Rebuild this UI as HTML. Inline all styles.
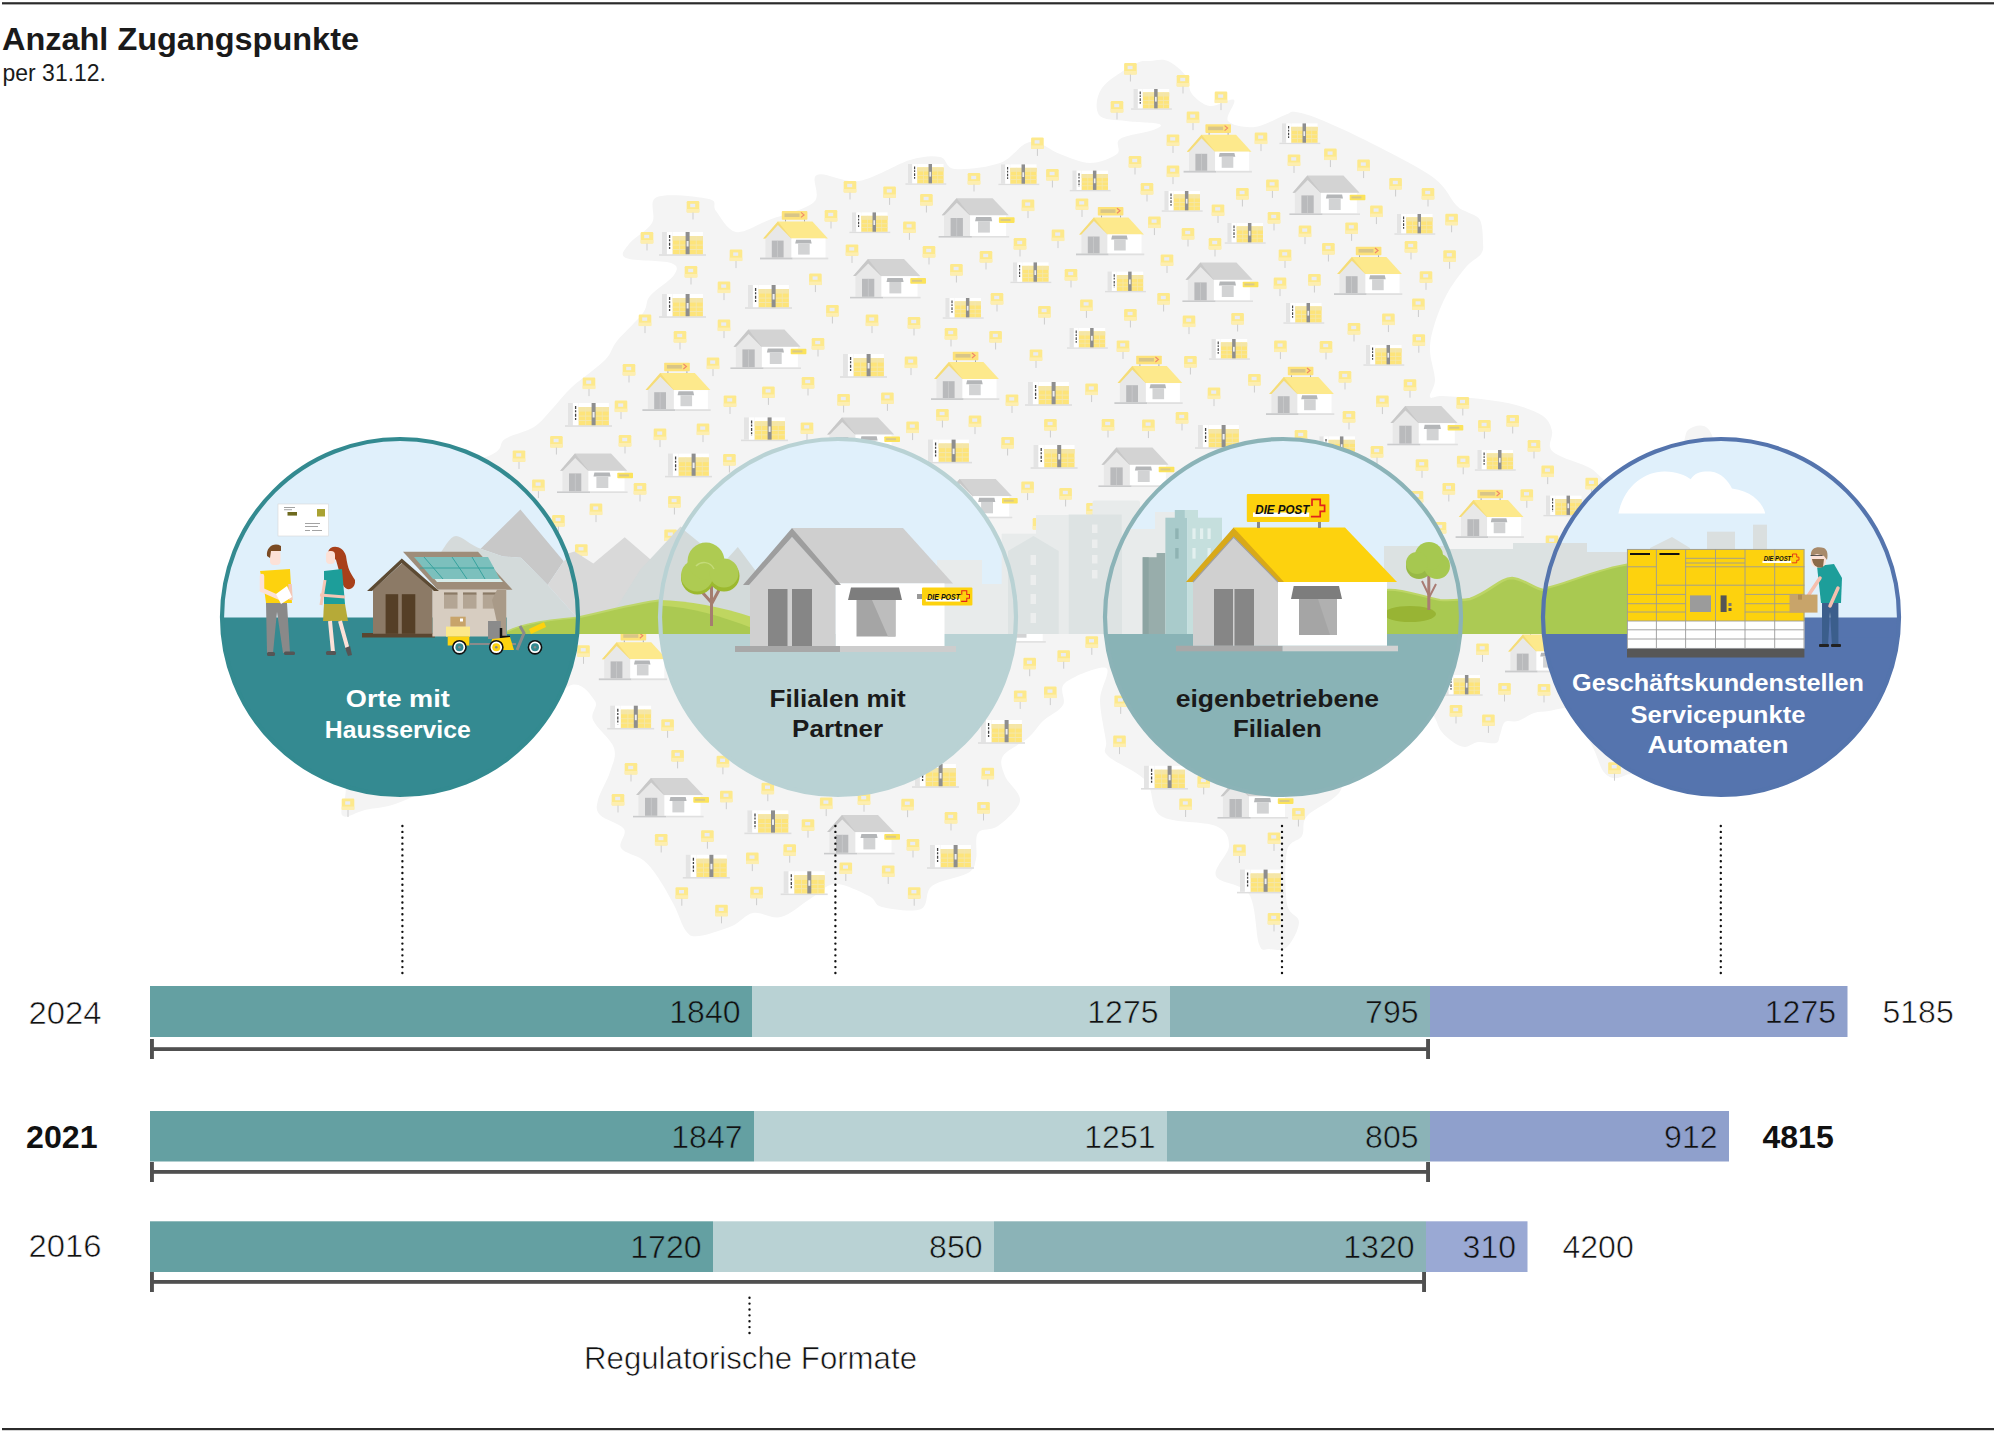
<!DOCTYPE html><html><head><meta charset="utf-8"><title>Anzahl Zugangspunkte</title><style>html,body{margin:0;padding:0;background:#fff;}body{width:2000px;height:1432px;overflow:hidden;position:relative;}svg{position:absolute;left:0;top:0;display:block;}</style></head><body>
<svg width="2000" height="1432" viewBox="0 0 2000 1432" font-family='"Liberation Sans", sans-serif'>
<defs>
<clipPath id="cc1"><circle cx="400" cy="617" r="179"/></clipPath>
<clipPath id="cc2"><circle cx="838" cy="617" r="179"/></clipPath>
<clipPath id="cc3"><circle cx="1283" cy="617" r="179"/></clipPath>
<clipPath id="cc4"><circle cx="1721" cy="617" r="179"/></clipPath>
<g id="pin"><rect x="-6.3" y="0" width="12.6" height="11.5" rx="1.2" fill="#fde98c"/><rect x="-6.3" y="8" width="12.6" height="3.5" fill="#fdeeb0"/><rect x="-2.8" y="2.8" width="5" height="3.4" fill="#e9ecf4"/><rect x="-0.5" y="11.5" width="1" height="7" fill="#cdcdcd"/></g>
<g id="lock"><rect x="-3" y="22.2" width="47" height="1.6" fill="#dedede"/><rect x="0" y="0" width="4.9" height="22.2" fill="#e4e4e4"/><rect x="4.9" y="0" width="5.4" height="22.2" fill="#fff"/><path d="M7.6,3 V18.5" stroke="#444" stroke-width="1.3" stroke-dasharray="3 1.2 2 1.5"/><rect x="10.7" y="0" width="30.2" height="4" fill="#fff"/><rect x="10.7" y="4" width="30.2" height="18.2" fill="#fde47a"/><rect x="10.7" y="4" width="30.2" height="4.6" fill="#f5e6a6"/><rect x="10.7" y="12.6" width="30.2" height="0.9" fill="#f3e7b0"/><rect x="10.7" y="17" width="30.2" height="0.9" fill="#f3e7b0"/><rect x="17.3" y="4" width="0.8" height="18.2" fill="#f3e7b0"/><rect x="33.8" y="4" width="0.8" height="18.2" fill="#f3e7b0"/><rect x="23.6" y="0" width="4" height="22.2" fill="#8e8e8e"/><rect x="24.6" y="9" width="2" height="5.5" fill="#eee"/></g>
<g id="hg"><polygon points="3.2,-22.3 18,-39.4 54,-39.4 70.2,-22.3" fill="#d3d3d3"/><polygon points="3.2,-22.3 18,-39.4 31.5,-22.3" fill="#c8c8c8"/><polygon points="5.4,-21.8 18.2,-34.9 31.5,-21.8 31.5,-1.6 5.4,-1.6" fill="#e8e8e8"/><rect x="31.5" y="-22" width="36" height="20.4" fill="#fff"/><rect x="12" y="-19.6" width="12.3" height="18" fill="#b9babc"/><rect x="17.9" y="-19.6" width="0.6" height="18" fill="#cfd0d1"/><polygon points="37.4,-20.5 52.7,-20.5 53.6,-16.4 36.5,-16.4" fill="#b4b6b8"/><rect x="39.4" y="-16.4" width="11.9" height="11.4" fill="#d2d3d4"/><rect x="0" y="-1.6" width="33.3" height="1.6" fill="#cacbcc"/><rect x="33.3" y="-1.6" width="37.3" height="1.6" fill="#e0e0e0"/><rect x="60.3" y="-20.3" width="15.7" height="5.6" rx="0.8" fill="#fbe35c"/><rect x="62" y="-18.6" width="10" height="2" fill="#d9c98a"/></g>
<g id="hy"><rect x="21.8" y="-48.3" width="25.6" height="8.6" rx="0.8" fill="#fde27a"/><rect x="24.5" y="-46" width="15" height="3.6" fill="#d8c588"/><path d="M41,-47 l3,2.5 l-3,2.5" stroke="#f08a6a" stroke-width="1.2" fill="none"/><rect x="25" y="-39.7" width="1" height="2" fill="#aaa"/><rect x="44" y="-39.7" width="1" height="2" fill="#aaa"/><polygon points="3.2,-20.9 17.9,-37.9 52.4,-37.9 67.9,-20.9" fill="#fde98c"/><polygon points="3.2,-20.9 17.9,-37.9 31.5,-20.9" fill="#f5dc78"/><polygon points="5.4,-20.7 17.9,-34.3 31.5,-20.7 31.5,-1.6 5.4,-1.6" fill="#e8e8e8"/><rect x="31.5" y="-20.9" width="34" height="19.3" fill="#fff"/><rect x="11.8" y="-18.8" width="11.8" height="17" fill="#b9babc"/><rect x="17.4" y="-18.8" width="0.6" height="17" fill="#cfd0d1"/><polygon points="36.1,-19.7 50.8,-19.7 51.7,-15.8 35.2,-15.8" fill="#b4b6b8"/><rect x="38.1" y="-15.8" width="11.6" height="11" fill="#d2d3d4"/><rect x="0" y="-1.8" width="32.7" height="1.8" fill="#cacbcc"/><rect x="32.7" y="-1.8" width="35.6" height="1.8" fill="#e0e0e0"/></g>
</defs>
<rect x="2" y="2.2" width="1992" height="2.2" fill="#2b2b2b"/>
<rect x="2" y="1428" width="1992" height="2.2" fill="#2b2b2b"/>
<text x="2" y="50" font-size="32" font-weight="bold" fill="#1a1a1a" textLength="357" lengthAdjust="spacingAndGlyphs">Anzahl Zugangspunkte</text>
<text x="2.5" y="81" font-size="24" fill="#1a1a1a" textLength="103.5" lengthAdjust="spacingAndGlyphs">per 31.12.</text>
<path d="M491.0,455.0 C505.2,448.2 497.8,443.7 505.0,439.0 C512.2,434.3 526.0,432.2 534.0,427.0 C542.0,421.8 546.7,414.7 553.0,408.0 C559.3,401.3 563.3,395.0 572.0,387.0 C580.7,379.0 597.5,367.7 605.0,360.0 C612.5,352.3 610.7,348.8 617.0,341.0 C623.3,333.2 637.5,320.5 643.0,313.0 C648.5,305.5 644.8,302.3 650.0,296.0 C655.2,289.7 670.5,280.5 674.0,275.0 C677.5,269.5 679.0,265.8 671.0,263.0 C663.0,260.2 633.0,261.2 626.0,258.0 C619.0,254.8 624.7,249.8 629.0,244.0 C633.3,238.2 647.3,230.8 652.0,223.0 C656.7,215.2 647.5,201.0 657.0,197.0 C666.5,193.0 699.2,196.7 709.0,199.0 C718.8,201.3 711.5,205.5 716.0,211.0 C720.5,216.5 727.2,230.5 736.0,232.0 C744.8,233.5 756.0,225.0 769.0,220.0 C782.0,215.0 806.0,209.5 814.0,202.0 C822.0,194.5 809.5,178.5 817.0,175.0 C824.5,171.5 843.5,183.5 859.0,181.0 C874.5,178.5 896.5,164.0 910.0,160.0 C923.5,156.0 932.5,155.5 940.0,157.0 C947.5,158.5 945.0,168.0 955.0,169.0 C965.0,170.0 987.5,167.5 1000.0,163.0 C1012.5,158.5 1020.0,143.5 1030.0,142.0 C1040.0,140.5 1050.0,150.5 1060.0,154.0 C1070.0,157.5 1080.5,163.0 1090.0,163.0 C1099.5,163.0 1112.0,158.0 1117.0,154.0 C1122.0,150.0 1114.0,143.0 1120.0,139.0 C1126.0,135.0 1146.5,132.5 1153.0,130.0 C1159.5,127.5 1163.5,125.5 1159.0,124.0 C1154.5,122.5 1136.0,122.5 1126.0,121.0 C1116.0,119.5 1103.0,120.5 1099.0,115.0 C1095.0,109.5 1096.0,96.5 1102.0,88.0 C1108.0,79.5 1127.0,68.5 1135.0,64.0 C1143.0,59.5 1144.5,61.5 1150.0,61.0 C1155.5,60.5 1162.0,58.5 1168.0,61.0 C1174.0,63.5 1182.0,70.5 1186.0,76.0 C1190.0,81.5 1188.0,89.0 1192.0,94.0 C1196.0,99.0 1203.0,105.0 1210.0,106.0 C1217.0,107.0 1231.0,97.5 1234.0,100.0 C1237.0,102.5 1224.5,116.5 1228.0,121.0 C1231.5,125.5 1245.5,128.0 1255.0,127.0 C1264.5,126.0 1278.2,117.5 1285.0,115.0 C1291.8,112.5 1289.5,111.0 1296.0,112.0 C1302.5,113.0 1310.2,115.2 1324.0,121.0 C1337.8,126.8 1360.7,137.5 1379.0,147.0 C1397.3,156.5 1421.2,168.3 1434.0,178.0 C1446.8,187.7 1450.5,199.3 1456.0,205.0 C1461.5,210.7 1463.0,209.5 1467.0,212.0 C1471.0,214.5 1477.3,215.0 1480.0,220.0 C1482.7,225.0 1482.8,236.3 1483.0,242.0 C1483.2,247.7 1483.8,249.8 1481.0,254.0 C1478.2,258.2 1471.7,260.3 1466.0,267.0 C1460.3,273.7 1452.3,284.2 1447.0,294.0 C1441.7,303.8 1436.8,316.5 1434.0,326.0 C1431.2,335.5 1429.8,342.0 1430.0,351.0 C1430.2,360.0 1435.0,372.3 1435.0,380.0 C1435.0,387.7 1428.7,394.3 1430.0,397.0 C1431.3,399.7 1434.5,395.7 1443.0,396.0 C1451.5,396.3 1468.8,397.5 1481.0,399.0 C1493.2,400.5 1505.7,402.2 1516.0,405.0 C1526.3,407.8 1537.0,411.7 1543.0,416.0 C1549.0,420.3 1550.8,425.8 1552.0,431.0 C1553.2,436.2 1548.7,442.8 1550.0,447.0 C1551.3,451.2 1553.3,452.5 1560.0,456.0 C1566.7,459.5 1580.8,463.2 1590.0,468.0 C1599.2,472.8 1605.0,485.5 1615.0,485.0 C1625.0,484.5 1639.2,471.2 1650.0,465.0 C1660.8,458.8 1673.7,453.8 1680.0,448.0 C1686.3,442.2 1684.0,433.7 1688.0,430.0 C1692.0,426.3 1699.7,424.3 1704.0,426.0 C1708.3,427.7 1710.5,431.0 1714.0,440.0 C1717.5,449.0 1724.0,453.3 1725.0,480.0 C1726.0,506.7 1727.5,563.3 1720.0,600.0 C1712.5,636.7 1693.3,672.5 1680.0,700.0 C1666.7,727.5 1649.0,752.5 1640.0,765.0 C1631.0,777.5 1630.5,772.8 1626.0,775.0 C1621.5,777.2 1616.8,778.7 1613.0,778.0 C1609.2,777.3 1606.0,775.3 1603.0,771.0 C1600.0,766.7 1597.5,757.5 1595.0,752.0 C1592.5,746.5 1591.3,744.2 1588.0,738.0 C1584.7,731.8 1578.7,720.0 1575.0,715.0 C1571.3,710.0 1570.3,708.7 1566.0,708.0 C1561.7,707.3 1554.3,710.2 1549.0,711.0 C1543.7,711.8 1539.2,711.3 1534.0,713.0 C1528.8,714.7 1522.8,719.5 1518.0,721.0 C1513.2,722.5 1508.0,719.7 1505.0,722.0 C1502.0,724.3 1501.5,731.5 1500.0,735.0 C1498.5,738.5 1499.7,741.8 1496.0,743.0 C1492.3,744.2 1483.2,741.3 1478.0,742.0 C1472.8,742.7 1469.2,747.0 1465.0,747.0 C1460.8,747.0 1457.0,744.7 1453.0,742.0 C1449.0,739.3 1444.8,736.0 1441.0,731.0 C1437.2,726.0 1436.8,717.2 1430.0,712.0 C1423.2,706.8 1413.3,692.0 1400.0,700.0 C1386.7,708.0 1360.2,744.5 1350.0,760.0 C1339.8,775.5 1346.2,783.7 1339.0,793.0 C1331.8,802.3 1313.2,808.8 1307.0,816.0 C1300.8,823.2 1305.3,830.2 1302.0,836.0 C1298.7,841.8 1289.5,839.7 1287.0,851.0 C1284.5,862.3 1285.0,892.2 1287.0,904.0 C1289.0,915.8 1299.0,914.8 1299.0,922.0 C1299.0,929.2 1292.0,942.5 1287.0,947.0 C1282.0,951.5 1273.7,949.5 1269.0,949.0 C1264.3,948.5 1262.3,953.2 1259.0,944.0 C1255.7,934.8 1256.2,905.3 1249.0,894.0 C1241.8,882.7 1219.3,884.0 1216.0,876.0 C1212.7,868.0 1229.0,854.3 1229.0,846.0 C1229.0,837.7 1227.3,831.0 1216.0,826.0 C1204.7,821.0 1172.7,823.5 1161.0,816.0 C1149.3,808.5 1154.8,791.0 1146.0,781.0 C1137.2,771.0 1114.7,762.7 1108.0,756.0 C1101.3,749.3 1107.3,750.3 1106.0,741.0 C1104.7,731.7 1100.0,712.2 1100.0,700.0 C1100.0,687.8 1111.8,670.8 1106.0,668.0 C1100.2,665.2 1072.2,676.8 1065.0,683.0 C1057.8,689.2 1066.7,698.7 1063.0,705.0 C1059.3,711.3 1048.8,715.5 1043.0,721.0 C1037.2,726.5 1034.7,732.2 1028.0,738.0 C1021.3,743.8 1006.8,749.7 1003.0,756.0 C999.2,762.3 1002.2,768.5 1005.0,776.0 C1007.8,783.5 1021.2,792.7 1020.0,801.0 C1018.8,809.3 1005.0,820.7 998.0,826.0 C991.0,831.3 981.7,827.5 978.0,833.0 C974.3,838.5 977.7,852.3 976.0,859.0 C974.3,865.7 975.3,868.5 968.0,873.0 C960.7,877.5 939.8,880.0 932.0,886.0 C924.2,892.0 929.3,905.5 921.0,909.0 C912.7,912.5 890.7,909.2 882.0,907.0 C873.3,904.8 876.8,899.8 869.0,896.0 C861.2,892.2 844.8,883.5 835.0,884.0 C825.2,884.5 819.0,893.5 810.0,899.0 C801.0,904.5 790.5,914.7 781.0,917.0 C771.5,919.3 761.2,911.5 753.0,913.0 C744.8,914.5 741.0,922.2 732.0,926.0 C723.0,929.8 706.7,935.2 699.0,936.0 C691.3,936.8 690.2,936.2 686.0,931.0 C681.8,925.8 678.8,914.2 674.0,905.0 C669.2,895.8 662.2,883.5 657.0,876.0 C651.8,868.5 649.0,864.7 643.0,860.0 C637.0,855.3 624.2,853.2 621.0,848.0 C617.8,842.8 627.5,834.5 624.0,829.0 C620.5,823.5 604.3,819.8 600.0,815.0 C595.7,810.2 596.3,807.2 598.0,800.0 C599.7,792.8 607.3,780.7 610.0,772.0 C612.7,763.3 616.8,756.7 614.0,748.0 C611.2,739.3 596.2,727.8 593.0,720.0 C589.8,712.2 599.0,706.7 595.0,701.0 C591.0,695.3 581.5,679.5 569.0,686.0 C556.5,692.5 546.5,721.3 520.0,740.0 C493.5,758.7 435.8,786.3 410.0,798.0 C384.2,809.7 376.3,807.2 365.0,810.0 C353.7,812.8 345.3,820.0 342.0,815.0 C338.7,810.0 348.7,799.2 345.0,780.0 C341.3,760.8 322.5,736.7 320.0,700.0 C317.5,663.3 313.3,596.7 330.0,560.0 C346.7,523.3 393.2,497.5 420.0,480.0 C446.8,462.5 476.8,461.8 491.0,455.0Z" fill="#f4f4f4"/>
<use href="#pin" x="693.0" y="201.0"/>
<use href="#pin" x="647.0" y="232.0"/>
<use href="#pin" x="736.0" y="249.6"/>
<use href="#pin" x="691.0" y="266.0"/>
<use href="#pin" x="724.0" y="281.6"/>
<use href="#pin" x="645.0" y="314.6"/>
<use href="#pin" x="724.0" y="319.6"/>
<use href="#pin" x="680.0" y="331.0"/>
<use href="#pin" x="850.0" y="181.0"/>
<use href="#pin" x="889.6" y="186.4"/>
<use href="#pin" x="926.4" y="194.0"/>
<use href="#pin" x="974.0" y="173.0"/>
<use href="#pin" x="831.0" y="210.0"/>
<use href="#pin" x="909.4" y="221.4"/>
<use href="#pin" x="852.0" y="244.4"/>
<use href="#pin" x="929.0" y="246.0"/>
<use href="#pin" x="986.0" y="251.0"/>
<use href="#pin" x="956.4" y="264.0"/>
<use href="#pin" x="815.4" y="273.6"/>
<use href="#pin" x="832.4" y="305.0"/>
<use href="#pin" x="872.0" y="314.6"/>
<use href="#pin" x="914.0" y="317.0"/>
<use href="#pin" x="951.0" y="328.0"/>
<use href="#pin" x="997.0" y="293.0"/>
<use href="#pin" x="1130.4" y="63.0"/>
<use href="#pin" x="1183.0" y="75.0"/>
<use href="#pin" x="1117.0" y="101.0"/>
<use href="#pin" x="1221.0" y="91.6"/>
<use href="#pin" x="1193.0" y="111.6"/>
<use href="#pin" x="1037.4" y="137.4"/>
<use href="#pin" x="1173.0" y="134.4"/>
<use href="#pin" x="1261.0" y="132.6"/>
<use href="#pin" x="1135.0" y="156.0"/>
<use href="#pin" x="1052.4" y="169.0"/>
<use href="#pin" x="1173.0" y="165.6"/>
<use href="#pin" x="1294.0" y="154.4"/>
<use href="#pin" x="1330.4" y="148.6"/>
<use href="#pin" x="1363.6" y="159.6"/>
<use href="#pin" x="1147.0" y="183.0"/>
<use href="#pin" x="1242.4" y="188.0"/>
<use href="#pin" x="1272.4" y="179.4"/>
<use href="#pin" x="1395.6" y="178.0"/>
<use href="#pin" x="1028.0" y="199.6"/>
<use href="#pin" x="1082.0" y="198.4"/>
<use href="#pin" x="1218.0" y="204.4"/>
<use href="#pin" x="1274.0" y="212.0"/>
<use href="#pin" x="1376.4" y="205.6"/>
<use href="#pin" x="1154.4" y="216.6"/>
<use href="#pin" x="1188.0" y="228.0"/>
<use href="#pin" x="1305.0" y="225.6"/>
<use href="#pin" x="1351.6" y="222.4"/>
<use href="#pin" x="1058.0" y="229.6"/>
<use href="#pin" x="1020.0" y="238.0"/>
<use href="#pin" x="1215.0" y="238.0"/>
<use href="#pin" x="1167.0" y="254.4"/>
<use href="#pin" x="1285.0" y="249.4"/>
<use href="#pin" x="1328.4" y="243.0"/>
<use href="#pin" x="1071.0" y="269.0"/>
<use href="#pin" x="1280.0" y="277.6"/>
<use href="#pin" x="1314.4" y="274.0"/>
<use href="#pin" x="1086.4" y="299.4"/>
<use href="#pin" x="1163.6" y="293.0"/>
<use href="#pin" x="1044.4" y="306.0"/>
<use href="#pin" x="1130.4" y="309.0"/>
<use href="#pin" x="1189.0" y="315.6"/>
<use href="#pin" x="1237.6" y="313.0"/>
<use href="#pin" x="1388.4" y="313.6"/>
<use href="#pin" x="1354.0" y="323.0"/>
<use href="#pin" x="1123.0" y="340.4"/>
<use href="#pin" x="1280.4" y="340.6"/>
<use href="#pin" x="1326.0" y="341.0"/>
<use href="#pin" x="1036.0" y="349.4"/>
<use href="#pin" x="1190.4" y="356.0"/>
<use href="#pin" x="1254.4" y="374.0"/>
<use href="#pin" x="1345.0" y="371.0"/>
<use href="#pin" x="1012.0" y="394.4"/>
<use href="#pin" x="1091.6" y="383.6"/>
<use href="#pin" x="1214.0" y="387.6"/>
<use href="#pin" x="1382.4" y="395.6"/>
<use href="#pin" x="1182.0" y="412.0"/>
<use href="#pin" x="1050.4" y="419.0"/>
<use href="#pin" x="1108.0" y="419.0"/>
<use href="#pin" x="1148.4" y="419.6"/>
<use href="#pin" x="1349.0" y="411.0"/>
<use href="#pin" x="1428.0" y="188.0"/>
<use href="#pin" x="1451.6" y="213.8"/>
<use href="#pin" x="1411.0" y="241.0"/>
<use href="#pin" x="1449.6" y="250.3"/>
<use href="#pin" x="1426.0" y="271.3"/>
<use href="#pin" x="1418.4" y="298.5"/>
<use href="#pin" x="1418.8" y="334.2"/>
<use href="#pin" x="1410.0" y="379.2"/>
<use href="#pin" x="1462.8" y="397.0"/>
<use href="#pin" x="1484.4" y="420.0"/>
<use href="#pin" x="1512.7" y="415.0"/>
<use href="#pin" x="1534.0" y="440.0"/>
<use href="#pin" x="1422.0" y="459.3"/>
<use href="#pin" x="1463.2" y="455.8"/>
<use href="#pin" x="1547.7" y="465.6"/>
<use href="#pin" x="1591.7" y="477.8"/>
<use href="#pin" x="1448.8" y="483.0"/>
<use href="#pin" x="1526.8" y="489.3"/>
<use href="#pin" x="818.0" y="338.0"/>
<use href="#pin" x="629.0" y="364.0"/>
<use href="#pin" x="713.0" y="357.6"/>
<use href="#pin" x="589.0" y="377.6"/>
<use href="#pin" x="808.0" y="377.0"/>
<use href="#pin" x="621.0" y="400.6"/>
<use href="#pin" x="730.0" y="395.4"/>
<use href="#pin" x="768.4" y="386.4"/>
<use href="#pin" x="843.6" y="394.0"/>
<use href="#pin" x="556.4" y="436.0"/>
<use href="#pin" x="625.0" y="435.0"/>
<use href="#pin" x="660.0" y="428.6"/>
<use href="#pin" x="703.0" y="423.6"/>
<use href="#pin" x="807.0" y="422.4"/>
<use href="#pin" x="519.0" y="450.4"/>
<use href="#pin" x="729.4" y="454.0"/>
<use href="#pin" x="538.4" y="479.6"/>
<use href="#pin" x="640.0" y="483.0"/>
<use href="#pin" x="674.4" y="496.0"/>
<use href="#pin" x="596.0" y="503.6"/>
<use href="#pin" x="558.4" y="515.0"/>
<use href="#pin" x="995.6" y="331.0"/>
<use href="#pin" x="911.0" y="356.6"/>
<use href="#pin" x="887.4" y="392.4"/>
<use href="#pin" x="942.4" y="409.0"/>
<use href="#pin" x="975.0" y="415.6"/>
<use href="#pin" x="912.6" y="421.6"/>
<use href="#pin" x="1007.6" y="437.0"/>
<use href="#pin" x="1027.6" y="481.6"/>
<use href="#pin" x="1065.6" y="488.0"/>
<use href="#pin" x="1301.0" y="430.0"/>
<use href="#pin" x="1377.0" y="446.0"/>
<use href="#pin" x="1417.0" y="491.0"/>
<use href="#pin" x="1440.0" y="522.0"/>
<use href="#pin" x="1552.0" y="535.6"/>
<use href="#pin" x="583.5" y="645.3"/>
<use href="#pin" x="667.6" y="719.3"/>
<use href="#pin" x="677.6" y="749.9"/>
<use href="#pin" x="631.0" y="763.0"/>
<use href="#pin" x="722.9" y="755.8"/>
<use href="#pin" x="767.8" y="782.7"/>
<use href="#pin" x="726.3" y="790.7"/>
<use href="#pin" x="618.0" y="794.0"/>
<use href="#pin" x="826.2" y="797.6"/>
<use href="#pin" x="864.0" y="793.2"/>
<use href="#pin" x="907.6" y="798.7"/>
<use href="#pin" x="983.5" y="802.0"/>
<use href="#pin" x="951.0" y="812.0"/>
<use href="#pin" x="661.2" y="834.0"/>
<use href="#pin" x="707.4" y="830.2"/>
<use href="#pin" x="808.0" y="819.2"/>
<use href="#pin" x="913.0" y="839.0"/>
<use href="#pin" x="789.7" y="844.2"/>
<use href="#pin" x="752.3" y="852.6"/>
<use href="#pin" x="845.8" y="862.5"/>
<use href="#pin" x="888.2" y="865.4"/>
<use href="#pin" x="681.8" y="887.2"/>
<use href="#pin" x="756.6" y="886.7"/>
<use href="#pin" x="914.2" y="887.2"/>
<use href="#pin" x="721.5" y="904.8"/>
<use href="#pin" x="1091.8" y="636.3"/>
<use href="#pin" x="1063.7" y="650.2"/>
<use href="#pin" x="1029.7" y="657.7"/>
<use href="#pin" x="1020.2" y="690.4"/>
<use href="#pin" x="1050.3" y="686.6"/>
<use href="#pin" x="1119.5" y="735.6"/>
<use href="#pin" x="1185.6" y="798.5"/>
<use href="#pin" x="1298.4" y="808.0"/>
<use href="#pin" x="1274.0" y="832.4"/>
<use href="#pin" x="1239.4" y="844.5"/>
<use href="#pin" x="1274.0" y="912.9"/>
<use href="#pin" x="1120.7" y="695.4"/>
<use href="#pin" x="1203.7" y="775.9"/>
<use href="#pin" x="1482.5" y="643.4"/>
<use href="#pin" x="1504.5" y="683.0"/>
<use href="#pin" x="1544.0" y="683.9"/>
<use href="#pin" x="1456.0" y="705.0"/>
<use href="#pin" x="1488.4" y="714.4"/>
<use href="#pin" x="1614.5" y="762.2"/>
<use href="#pin" x="581.3" y="544.3"/>
<use href="#pin" x="1092.5" y="503.0"/>
<use href="#pin" x="1039.0" y="518.0"/>
<use href="#pin" x="348.0" y="798.5"/>
<use href="#pin" x="987.8" y="767.8"/>
<use href="#pin" x="670.6" y="529.6"/>
<use href="#lock" x="662.0" y="232.0"/>
<use href="#lock" x="662.0" y="294.0"/>
<use href="#lock" x="748.0" y="285.0"/>
<use href="#lock" transform="translate(852.0,212.4) scale(0.87)"/>
<use href="#lock" transform="translate(908.0,164.0) scale(0.87)"/>
<use href="#lock" transform="translate(945.4,298.0) scale(0.87)"/>
<use href="#lock" transform="translate(1133.6,89.0) scale(0.87)"/>
<use href="#lock" transform="translate(1282.0,123.4) scale(0.87)"/>
<use href="#lock" transform="translate(1001.0,164.4) scale(0.87)"/>
<use href="#lock" transform="translate(1072.4,170.6) scale(0.87)"/>
<use href="#lock" transform="translate(1164.4,191.0) scale(0.87)"/>
<use href="#lock" transform="translate(1227.4,223.0) scale(0.87)"/>
<use href="#lock" transform="translate(1397.0,214.0) scale(0.87)"/>
<use href="#lock" transform="translate(1013.0,262.4) scale(0.87)"/>
<use href="#lock" transform="translate(1107.6,271.6) scale(0.87)"/>
<use href="#lock" transform="translate(1286.0,303.0) scale(0.87)"/>
<use href="#lock" transform="translate(1069.6,328.0) scale(0.87)"/>
<use href="#lock" transform="translate(1211.6,339.0) scale(0.87)"/>
<use href="#lock" transform="translate(1366.0,345.0) scale(0.87)"/>
<use href="#lock" x="1028.0" y="382.0"/>
<use href="#lock" x="1198.0" y="425.0"/>
<use href="#lock" transform="translate(1477.5,450.0) scale(0.87)"/>
<use href="#lock" x="568.0" y="403.0"/>
<use href="#lock" x="744.0" y="417.4"/>
<use href="#lock" x="668.0" y="453.6"/>
<use href="#lock" x="843.0" y="354.0"/>
<use href="#lock" x="928.0" y="439.6"/>
<use href="#lock" x="1033.6" y="445.0"/>
<use href="#lock" transform="translate(1319.4,436.4) scale(0.87)"/>
<use href="#lock" transform="translate(1546.0,495.6) scale(0.87)"/>
<use href="#lock" x="610.2" y="705.7"/>
<use href="#lock" x="747.4" y="810.4"/>
<use href="#lock" x="685.8" y="854.8"/>
<use href="#lock" x="783.7" y="871.3"/>
<use href="#lock" x="930.0" y="845.0"/>
<use href="#lock" x="915.0" y="764.0"/>
<use href="#lock" x="981.0" y="720.0"/>
<use href="#lock" x="1144.0" y="765.8"/>
<use href="#lock" x="1240.0" y="869.6"/>
<use href="#lock" transform="translate(1444.4,675.0) scale(0.87)"/>
<use href="#hg" x="850.0" y="298.4"/>
<use href="#hg" x="938.6" y="237.6"/>
<use href="#hg" x="1289.4" y="215.0"/>
<use href="#hg" x="1182.4" y="302.0"/>
<use href="#hg" x="1387.3" y="445.3"/>
<use href="#hg" x="730.4" y="369.0"/>
<use href="#hg" x="557.0" y="493.0"/>
<use href="#hg" x="824.0" y="456.8"/>
<use href="#hg" x="941.7" y="518.3"/>
<use href="#hg" x="1098.4" y="487.0"/>
<use href="#hg" x="633.0" y="817.4"/>
<use href="#hg" x="824.0" y="854.4"/>
<use href="#hg" x="1217.5" y="818.6"/>
<use href="#hg" x="975.2" y="642.7"/>
<use href="#hy" x="760.0" y="259.4"/>
<use href="#hy" x="1183.6" y="172.6"/>
<use href="#hy" x="1076.0" y="255.3"/>
<use href="#hy" x="1334.0" y="295.0"/>
<use href="#hy" x="1114.4" y="404.0"/>
<use href="#hy" x="1266.0" y="415.0"/>
<use href="#hy" x="642.4" y="411.0"/>
<use href="#hy" x="931.0" y="400.0"/>
<use href="#hy" x="1455.6" y="538.0"/>
<use href="#hy" x="598.8" y="680.2"/>
<use href="#hy" x="1505.0" y="672.4"/>
<polygon points="560,634 560,556 574.5,551.6 593.3,563.6 624.7,537.2 651.7,560.4 700,610 700,634" fill="#d9d9d9"/>
<polygon points="600,634 640,570 680.6,526.5 700,542 700,634" fill="#d3dada"/>
<path d="M560,621 C600,614 630,603 670,599 L700,600 L700,634 L560,634 Z" fill="#aecb52"/>
<path d="M560,621 C600,614 630,603 670,599 L700,600" stroke="#bdd66a" stroke-width="2" fill="none"/>
<rect x="1001.7" y="533.7" width="57" height="100.3" fill="#e8ebeb"/>
<rect x="1036" y="515" width="33" height="119" fill="#e8ebeb"/>
<rect x="1092.5" y="500.5" width="47.5" height="133.5" rx="2" fill="#e8ebeb"/>
<polygon points="1008,551 1033.5,536 1058.7,551 1058.7,634 1008,634" fill="#dde3e3"/>
<rect x="1068.7" y="514.5" width="53" height="119.5" fill="#dde3e3"/>
<rect x="1030.5" y="555" width="5.5" height="10" fill="#eceeee"/>
<rect x="1030.5" y="575" width="5.5" height="10" fill="#eceeee"/>
<rect x="1030.5" y="594" width="5.5" height="10" fill="#eceeee"/>
<rect x="1030.5" y="613" width="5.5" height="10" fill="#eceeee"/>
<rect x="1092" y="524.5" width="5.5" height="8.5" fill="#eceeee"/>
<rect x="1092" y="539.5" width="5.5" height="8.5" fill="#eceeee"/>
<rect x="1092" y="555.0" width="5.5" height="8.5" fill="#eceeee"/>
<rect x="1092" y="570.0" width="5.5" height="8.5" fill="#eceeee"/>
<polygon points="1440,634 1440,549 1513,549 1513,543 1587,543 1587,552 1600,552 1600,634" fill="#dce2e2"/>
<path d="M1440,598 C1452,600 1460,601 1470,599 C1490,592 1500,578 1512,578 C1525,579 1535,590 1545,590 C1560,588 1570,572 1600,567 L1600,634 L1440,634 Z" fill="#acca54"/>
<path d="M1440,598 C1452,600 1460,601 1470,599 C1490,592 1500,578 1512,578 C1525,579 1535,590 1545,590 C1560,588 1570,572 1600,567" stroke="#bcd565" stroke-width="2.5" fill="none"/>
<!--CIRCLES-->
<g clip-path="url(#cc1)">
<rect x="214" y="430" width="372" height="380" fill="#e0f0fb"/>
<path d="M434,634 L436,560 C444,548 450,536 456,536 C462,536 470,545 481,549 L481,634 Z" fill="#d5dada"/>
<polygon points="480.6,548.8 520.4,509.6 563.7,561.3 547.7,585 521,557.7 503,556.5" fill="#c8c8c8"/>
<polygon points="547.7,585 563.7,561.3 574.4,551.8 600,575 600,634 574.4,614.7" fill="#d9d9d9"/>
<polygon points="470,549 480.6,548.8 503,556.5 521,557.7 547.7,585 574.4,614.7 590,634 470,634" fill="#d3dada"/>
<path d="M503,634 C515,626 535,621 582,617 L582,634 Z" fill="#aecb52"/>
<path d="M503,634 C515,626 535,621 582,617" stroke="#bdd66a" stroke-width="1.5" fill="none"/>
<rect x="215" y="617.5" width="292" height="20" fill="#348a91"/>
<rect x="215" y="634" width="372" height="180" fill="#348a91"/>
<rect x="278" y="504" width="50.5" height="32" fill="#fff" stroke="#d8d8d8" stroke-width="0.6"/>
<rect x="317" y="509" width="8" height="7.5" fill="#a9a232"/><rect x="287.5" y="512" width="9.5" height="3.6" fill="#6e6a1f"/>
<rect x="284" y="507" width="11" height="0.9" fill="#999"/><rect x="284" y="509.3" width="8" height="0.9" fill="#999"/><rect x="305" y="523" width="15" height="0.9" fill="#999"/><rect x="305" y="526" width="13" height="0.9" fill="#999"/><rect x="305" y="530" width="5" height="0.9" fill="#999"/><rect x="312" y="530" width="10" height="0.9" fill="#999"/>
<rect x="362" y="633" width="73" height="4.5" fill="#5a4630"/>
<polygon points="403,551.8 478,551.8 512.5,589.7 437.8,589.7" fill="#9e8d7a"/><polygon points="434,578.5 500,578.5 503,582 437,582" fill="#d8ecea"/>
<polygon points="414,557 488,557 500,579 433,579" fill="#7cc0bd"/>
<path d="M424,557 L443,579 M452,557 L467,579 M472,557 L485,579 M420,568 L494,568" stroke="#2f9e9a" stroke-width="0.9"/>
<rect x="432.4" y="589.7" width="74" height="46.8" fill="#d7cdc1"/>
<polygon points="373,589.7 403.6,561.8 432.4,589.7 432.4,633.8 373,633.8" fill="#8c7a66"/>
<polygon points="367,591 401.8,558.5 439,591 434,591 401.8,563 372,591" fill="#5c4a33"/>
<rect x="385.6" y="594.2" width="12.6" height="39.6" fill="#553f26"/><rect x="401.8" y="594.2" width="13.5" height="39.6" fill="#553f26"/>
<rect x="444.0" y="594" width="13.5" height="14.6" fill="#b3a594"/><rect x="444.0" y="592.4" width="13.5" height="2.2" fill="#8a7a66"/>
<rect x="463.0" y="594" width="13.5" height="14.6" fill="#b3a594"/><rect x="463.0" y="592.4" width="13.5" height="2.2" fill="#8a7a66"/>
<rect x="482.8" y="594" width="13.5" height="14.6" fill="#b3a594"/><rect x="482.8" y="592.4" width="13.5" height="2.2" fill="#8a7a66"/>
<polygon points="497,589.7 506.2,589.7 506.2,636.5 500,636.5 492,600" fill="#a99a88"/>
<rect x="450.4" y="616.7" width="15.3" height="10" fill="#c8a46a"/><rect x="460" y="618.5" width="3" height="3" fill="#fff"/>
<rect x="446" y="626.6" width="24" height="10" fill="#fde98a"/><rect x="447.7" y="636.5" width="21.6" height="9" fill="#fdd20e"/>
<rect x="470" y="643" width="46" height="2" fill="#8b8b8b"/>
<rect x="488" y="621" width="12.8" height="18" fill="#8b8b8b"/><path d="M501,628 L501,637 L510,637" stroke="#111" stroke-width="2.5" fill="none"/>
<polygon points="492,639 510,637 514,650 490,650" fill="#fdd20e"/>
<path d="M517,650 L524,633 L520,626" stroke="#8b8b8b" stroke-width="3" fill="none"/><polygon points="529,629 544,622 546,627 531,634" fill="#fdd20e"/>
<circle cx="459.4" cy="647.3" r="6.6" fill="#fff" stroke="#111" stroke-width="1.6"/><circle cx="459.4" cy="647.3" r="4" fill="#348a91"/><circle cx="459.4" cy="647.3" r="1.3" fill="#888"/>
<circle cx="496.3" cy="647.3" r="6.6" fill="#fff" stroke="#111" stroke-width="1.6"/><circle cx="496.3" cy="647.3" r="4" fill="#fdd20e"/><circle cx="496.3" cy="647.3" r="1.3" fill="#888"/>
<circle cx="535.0" cy="647.3" r="6.6" fill="#fff" stroke="#111" stroke-width="1.6"/><circle cx="535.0" cy="647.3" r="4" fill="#348a91"/><circle cx="535.0" cy="647.3" r="1.3" fill="#888"/>
<polygon points="266,603 287,603 290,653 283,653 277,612 273,653 267,653" fill="#898989"/>
<rect x="267" y="652" width="8" height="4" rx="1.5" fill="#555"/><rect x="284" y="651.5" width="11" height="3.5" rx="1.5" fill="#555"/>
<polygon points="260,571 290,569 292,603 266,603 264,588" fill="#fdd20e"/>
<path d="M262,576 L262,590 L280,598" stroke="#fce1d7" stroke-width="4.5" fill="none" stroke-linecap="round"/><path d="M290,584 L291,600" stroke="#f5c6b5" stroke-width="3.5" fill="none"/>
<polygon points="276,594 287,586 292,597 281,604" fill="#fff"/>
<rect x="270" y="550" width="10.5" height="15" rx="4" fill="#fce1d7"/><path d="M267,556 C266,547 274,542 281,546 L281,551 L271,551 L270,558 Z" fill="#7a4a22"/>
<path d="M328,552 C330,544 343,545 346,556 C348,570 350,572 355,580 C356,590 346,592 343,585 L336,560 Z" fill="#a8401a"/>
<rect x="326" y="551" width="9" height="13" rx="4" fill="#fce1d7"/>
<polygon points="324,571 342,569 345,604 324,604" fill="#1d9e9a"/>
<path d="M325,580 L321,605" stroke="#f5c6b5" stroke-width="3" fill="none"/><path d="M320,595 L345,597" stroke="#f5c6b5" stroke-width="3" fill="none"/>
<polygon points="324,604 345,604 348,621 323,621" fill="#b6aa38"/>
<path d="M330,621 L333,652 M340,621 L348,650" stroke="#fce1d7" stroke-width="4" fill="none"/>
<rect x="326" y="651" width="10" height="4" rx="1.5" fill="#555"/><polygon points="345,648 350,646 352,655 348,656" fill="#555"/>
</g>
<circle cx="400" cy="617" r="178" fill="none" stroke="#338a90" stroke-width="4.2"/>
<g clip-path="url(#cc2)">
<rect x="652" y="430" width="372" height="380" fill="#e0f0fb"/>
<polygon points="650,634 650,560 679,526 723.8,562.5 737.8,547 770,590 770,634" fill="#d3dada"/>
<rect x="937" y="560" width="45" height="74" fill="#e8ebeb"/><rect x="982" y="584" width="20" height="50" fill="#e8ebeb"/>
<rect x="1001.7" y="533.7" width="57" height="100.3" fill="#e8ebeb"/><polygon points="1008,551 1033.5,536 1058.7,551 1058.7,634 1008,634" fill="#dde3e3"/>
<path d="M650,600 C680,599 720,606 752,617 L752,634 L650,634 Z" fill="#bfd660"/>
<path d="M650,605.5 C685,605 720,616 752,628 L752,634 L650,634 Z" fill="#abc952"/>
<path d="M711.5,626 L711.5,578 M711,602 L702,592 M711.5,604 L719,590" stroke="#a57d70" stroke-width="3" fill="none"/>
<circle cx="697.5" cy="578" r="16.5" fill="#9cb92f"/><circle cx="724" cy="576" r="15.5" fill="#9cb92f"/>
<circle cx="697" cy="575.5" r="16" fill="#aecb52"/><circle cx="706" cy="561" r="18.5" fill="#aecb52"/><circle cx="724" cy="573" r="14.5" fill="#aecb52"/>
<path d="M696,566 C701,561 710,561 714,569" stroke="#c3da78" stroke-width="1.5" fill="none"/>
<rect x="640" y="634" width="400" height="180" fill="#b9d2d4"/>
<rect x="735" y="646" width="105" height="6" fill="#a8a8a8"/><rect x="840" y="646" width="116" height="6" fill="#cdcdcd"/>
<polygon points="792,528 903,528 953,583.4 835.5,583.4" fill="#cfcfcf"/>
<rect x="835.5" y="583.4" width="109" height="62.6" fill="#fff"/>
<polygon points="750,583.4 792,537 835.5,583.4 835.5,646 750,646" fill="#d0d0d0"/>
<polygon points="743,585 792,528 841,585 835.5,585 792,537 749,585" fill="#9e9e9e"/>
<rect x="768" y="589" width="19.5" height="57" fill="#868686"/><rect x="792" y="589" width="20" height="57" fill="#868686"/>
<polygon points="851,587.6 899,587.6 902,600 848,600" fill="#7d7d7d"/><rect x="856.5" y="600" width="39" height="36.5" fill="#a5a5a5"/><polygon points="872,600 895.5,600 895.5,636.5 888,636.5" fill="#bdbdbd"/>
<rect x="917" y="594" width="6" height="5" fill="#999"/><rect x="922" y="587.6" width="50.4" height="18" rx="1" fill="#fdd20e"/>
<g transform="translate(922.00,587.60) scale(0.610)">
<rect x="6.2" y="18.5" width="56.2" height="4.4" fill="#fff"/>
<text x="8.5" y="19.6" font-size="13.5" font-weight="bold" font-style="italic" fill="#111" textLength="54" lengthAdjust="spacingAndGlyphs">DIE POST</text>
<path d="M65.2,11.9 V5.3 H73.4 V11.4 H77.8 V17.4 H73.4 V22.6 H64.1" fill="none" stroke="#e2231a" stroke-width="1.7"/>
</g>
</g>
<circle cx="838" cy="617" r="178" fill="none" stroke="#b9d2d4" stroke-width="4.2"/>
<g clip-path="url(#cc3)">
<rect x="1097" y="430" width="372" height="380" fill="#e0f0fb"/>
<rect x="1384" y="546" width="90" height="88" fill="#dce2e2"/>
<rect x="1080" y="514" width="42" height="120" fill="#dde3e3"/>
<rect x="1122" y="529" width="44" height="105" fill="#e8ebeb"/><rect x="1155" y="512" width="20" height="18" fill="#e8ebeb"/>
<polygon points="1142.7,634 1142.7,557.3 1156.6,557.3 1156.6,553 1165.4,553 1165.4,634" fill="#98adab"/><rect x="1142.7" y="557.3" width="6" height="76.7" fill="#8ca4a2"/>
<rect x="1165.4" y="517.7" width="22" height="116.3" fill="#a9cbcb"/><rect x="1174.8" y="510" width="10.1" height="8" fill="#a9cbcb"/>
<rect x="1187.4" y="517.7" width="34.6" height="116.3" fill="#c5dfdd"/><rect x="1184.9" y="510" width="13.1" height="8" fill="#c5dfdd"/>
<rect x="1175.2" y="528.4" width="3.4" height="10.6" fill="#8fb3b3"/><rect x="1175.2" y="548" width="3.4" height="10.6" fill="#8fb3b3"/>
<rect x="1192.4" y="528.4" width="3.2" height="10.6" fill="#e3f0ef"/>
<rect x="1200.0" y="528.4" width="3.2" height="10.6" fill="#e3f0ef"/>
<rect x="1207.5" y="528.4" width="3.2" height="10.6" fill="#e3f0ef"/>
<rect x="1192.4" y="548" width="3.2" height="10.6" fill="#e3f0ef"/>
<rect x="1207.5" y="548" width="3.2" height="10.6" fill="#e3f0ef"/>
<path d="M1384,590 C1400,588 1420,596 1440,600 C1450,601 1460,600 1475,598 L1475,634 L1384,634 Z" fill="#a9c951"/>
<path d="M1384,590 C1400,588 1420,596 1440,600 C1450,601 1460,600 1475,598" stroke="#bcd565" stroke-width="2" fill="none"/>
<ellipse cx="1410" cy="614" rx="26" ry="8" fill="#98b434"/>
<rect x="1427.3" y="568" width="3" height="42" fill="#a97c74"/><path d="M1428.8,595 L1422,581 M1428.8,598 L1436,584" stroke="#a97c74" stroke-width="2"/>
<circle cx="1419" cy="566" r="13" fill="#98b946"/><circle cx="1437" cy="566" r="13" fill="#a6c850"/><circle cx="1429" cy="556" r="14" fill="#a6c850"/><circle cx="1417" cy="563" r="11" fill="#a6c850"/>
<rect x="1080" y="634" width="410" height="180" fill="#89b3b6"/>
<rect x="1176" y="645.7" width="106.5" height="5.6" fill="#a8a8a8"/><rect x="1282.5" y="645.7" width="115.5" height="5.6" fill="#d2d2d2"/>
<polygon points="1233.6,527.5 1345,527.5 1397,582 1278,582" fill="#fdd20e"/>
<rect x="1278" y="582" width="109" height="63.7" fill="#fff"/>
<polygon points="1193,582 1233.6,537 1278,582 1278,645.7 1193,645.7" fill="#d0d0d0"/>
<polygon points="1186,582 1233.6,527.5 1284,582 1278,582 1233.6,537 1193,582" fill="#d8a91a"/>
<path d="M1193,582 L1233.6,537 L1278,582" stroke="#a0a0a0" stroke-width="1.2" fill="none"/>
<rect x="1214" y="589" width="19" height="56.7" fill="#868686"/><rect x="1234.5" y="589" width="19.5" height="56.7" fill="#868686"/>
<polygon points="1293.7,586 1339,586 1342,599 1291,599" fill="#7d7d7d"/><rect x="1299" y="599" width="38" height="36" fill="#a5a5a5"/><polygon points="1318,599 1337,599 1337,635 1330,635" fill="#b0b0b0"/>
<rect x="1257" y="521" width="3" height="7" fill="#8a8a8a"/><rect x="1318" y="521" width="3" height="7" fill="#8a8a8a"/>
<rect x="1246.8" y="494" width="82.6" height="28" rx="1" fill="#fdd20e"/>
<g transform="translate(1246.80,494.00) scale(1.000)">
<rect x="6.2" y="18.5" width="56.2" height="4.4" fill="#fff"/>
<text x="8.5" y="19.6" font-size="13.5" font-weight="bold" font-style="italic" fill="#111" textLength="54" lengthAdjust="spacingAndGlyphs">DIE POST</text>
<path d="M65.2,11.9 V5.3 H73.4 V11.4 H77.8 V17.4 H73.4 V22.6 H64.1" fill="none" stroke="#e2231a" stroke-width="1.7"/>
</g>
</g>
<circle cx="1283" cy="617" r="178" fill="none" stroke="#8bb3b7" stroke-width="4.2"/>
<g clip-path="url(#cc4)">
<rect x="1535" y="430" width="372" height="380" fill="#e0f0fb"/>
<path d="M1618.4,513.6 C1624,486 1645,471 1665,471.5 C1677,472 1685,475 1690.7,479.2 C1695,472 1703,471 1710.6,471.5 C1722,473 1728,481 1732,488.4 C1752,491 1763,503 1765.2,513.6 Z" fill="#fff"/>
<rect x="1535" y="543" width="52" height="91" fill="#dadfdf"/><polygon points="1650,634 1650,548 1672,537 1690,548 1690,634" fill="#dadfdf"/><rect x="1707" y="531.7" width="28" height="102" fill="#dadfdf"/><rect x="1753" y="524.7" width="14" height="110" fill="#dadfdf"/><rect x="1587" y="552" width="60" height="82" fill="#dadfdf"/>
<path d="M1535,590 C1560,588 1590,570 1630,564 L1630,634 L1535,634 Z" fill="#a9c951"/>
<path d="M1535,590 C1560,588 1590,570 1630,564" stroke="#bcd565" stroke-width="2" fill="none"/>
<rect x="1535" y="634" width="372" height="180" fill="#5574ae"/>
<rect x="1800" y="617.5" width="110" height="20" fill="#5574ae"/>
<rect x="1627" y="549" width="177.4" height="72" fill="#fdd20e"/>
<rect x="1627" y="621" width="177.4" height="27.5" fill="#fff"/>
<rect x="1627" y="648.5" width="177.4" height="9" fill="#575757"/>
<g stroke="#9a9a9a" stroke-width="0.9" fill="none"><rect x="1627.4" y="549.4" width="176.6" height="99"/>
<line x1="1656.4" y1="549" x2="1656.4" y2="648.5"/>
<line x1="1685.6" y1="549" x2="1685.6" y2="648.5"/>
<line x1="1715.5" y1="549" x2="1715.5" y2="648.5"/>
<line x1="1745.0" y1="549" x2="1745.0" y2="648.5"/>
<line x1="1774.7" y1="549" x2="1774.7" y2="648.5"/>
<line x1="1627.0" y1="566.8" x2="1656.4" y2="566.8"/><line x1="1627.0" y1="594.4" x2="1656.4" y2="594.4"/><line x1="1627.0" y1="603.7" x2="1656.4" y2="603.7"/><line x1="1627.0" y1="612.0" x2="1656.4" y2="612.0"/><line x1="1656.4" y1="585.2" x2="1685.6" y2="585.2"/><line x1="1656.4" y1="594.4" x2="1685.6" y2="594.4"/><line x1="1656.4" y1="603.7" x2="1685.6" y2="603.7"/><line x1="1656.4" y1="612.0" x2="1685.6" y2="612.0"/><line x1="1685.6" y1="558.3" x2="1715.5" y2="558.3"/><line x1="1685.6" y1="563.0" x2="1715.5" y2="563.0"/><line x1="1685.6" y1="566.8" x2="1715.5" y2="566.8"/><line x1="1685.6" y1="585.2" x2="1715.5" y2="585.2"/><line x1="1715.5" y1="558.3" x2="1745.0" y2="558.3"/><line x1="1715.5" y1="563.0" x2="1745.0" y2="563.0"/><line x1="1715.5" y1="566.8" x2="1745.0" y2="566.8"/><line x1="1715.5" y1="585.2" x2="1745.0" y2="585.2"/><line x1="1745.0" y1="566.8" x2="1774.7" y2="566.8"/><line x1="1745.0" y1="585.2" x2="1774.7" y2="585.2"/><line x1="1745.0" y1="594.4" x2="1774.7" y2="594.4"/><line x1="1745.0" y1="603.7" x2="1774.7" y2="603.7"/><line x1="1745.0" y1="612.0" x2="1774.7" y2="612.0"/><line x1="1774.7" y1="566.8" x2="1804.4" y2="566.8"/><line x1="1774.7" y1="585.2" x2="1804.4" y2="585.2"/><line x1="1774.7" y1="594.4" x2="1804.4" y2="594.4"/><line x1="1774.7" y1="603.7" x2="1804.4" y2="603.7"/><line x1="1774.7" y1="612.0" x2="1804.4" y2="612.0"/><line x1="1627" y1="629.8" x2="1804.4" y2="629.8"/><line x1="1627" y1="639" x2="1804.4" y2="639"/><line x1="1627" y1="621" x2="1804.4" y2="621"/>
</g>
<rect x="1630" y="553" width="20" height="2" fill="#111"/><rect x="1659.5" y="553" width="20" height="2" fill="#111"/>
<rect x="1690" y="595.4" width="21" height="16.6" fill="#9b9b9b"/><rect x="1720.6" y="595.4" width="6" height="16.6" fill="#555"/><rect x="1728.5" y="603" width="3" height="3" fill="#777"/><rect x="1728.5" y="608" width="3" height="3" fill="#555"/>
<g transform="translate(1759.30,551.30) scale(0.510)">
<rect x="6.2" y="18.5" width="56.2" height="4.4" fill="#fff"/>
<text x="8.5" y="19.6" font-size="13.5" font-weight="bold" font-style="italic" fill="#111" textLength="54" lengthAdjust="spacingAndGlyphs">DIE POST</text>
<path d="M65.2,11.9 V5.3 H73.4 V11.4 H77.8 V17.4 H73.4 V22.6 H64.1" fill="none" stroke="#e2231a" stroke-width="1.7"/>
</g>
<polygon points="1822,601.6 1838.4,601.6 1838.4,646 1832,646 1830,612 1828,646 1822,646" fill="#3b5e8c"/>
<rect x="1819" y="644" width="10" height="3" rx="1" fill="#222"/><rect x="1831" y="644" width="10" height="3" rx="1" fill="#222"/>
<polygon points="1817,566 1834,564 1842,578 1841,603 1821,603" fill="#1d9e9a"/>
<path d="M1820,578 L1808,596" stroke="#f5bfae" stroke-width="3.5" stroke-linecap="round"/><path d="M1838,588 L1830,606" stroke="#f5bfae" stroke-width="3.5" stroke-linecap="round"/>
<rect x="1789.5" y="594.6" width="28" height="18" fill="#c8a46a"/><rect x="1798" y="594.6" width="4" height="5" fill="#b08c55"/>
<rect x="1811" y="548.5" width="15" height="19" rx="6" fill="#fce1d7"/><path d="M1811,556 C1810,547 1818,546 1824,548 C1828,550 1828,556 1827,560 L1824,556 L1817,554 Z" fill="#a88a6a"/><path d="M1812,559 C1813,566 1818,569 1823,567 L1824,559 Z" fill="#8a6a4a"/><path d="M1810.5,555.5 h12" stroke="#333" stroke-width="0.8"/>
</g>
<circle cx="1721" cy="617" r="178" fill="none" stroke="#5474ad" stroke-width="4.2"/>
<text x="397.8" y="707.2" font-size="24" font-weight="bold" fill="#fff" stroke="none" stroke-width="0.5" text-anchor="middle" textLength="104.0" lengthAdjust="spacingAndGlyphs">Orte mit</text>
<text x="397.8" y="737.9" font-size="24" font-weight="bold" fill="#fff" stroke="none" stroke-width="0.5" text-anchor="middle" textLength="146.0" lengthAdjust="spacingAndGlyphs">Hausservice</text>
<text x="837.6" y="706.5" font-size="24" font-weight="bold" fill="#1a1a1a" stroke="none" stroke-width="0.5" text-anchor="middle" textLength="136.0" lengthAdjust="spacingAndGlyphs">Filialen mit</text>
<text x="837.6" y="737.2" font-size="24" font-weight="bold" fill="#1a1a1a" stroke="none" stroke-width="0.5" text-anchor="middle" textLength="91.0" lengthAdjust="spacingAndGlyphs">Partner</text>
<text x="1277.4" y="706.5" font-size="24" font-weight="bold" fill="#1a1a1a" stroke="none" stroke-width="0.5" text-anchor="middle" textLength="203.5" lengthAdjust="spacingAndGlyphs">eigenbetriebene</text>
<text x="1277.4" y="737.2" font-size="24" font-weight="bold" fill="#1a1a1a" stroke="none" stroke-width="0.5" text-anchor="middle" textLength="89.0" lengthAdjust="spacingAndGlyphs">Filialen</text>
<text x="1718.0" y="691.0" font-size="24" font-weight="bold" fill="#fff" stroke="none" stroke-width="0.5" text-anchor="middle" textLength="292.0" lengthAdjust="spacingAndGlyphs">Geschäftskundenstellen</text>
<text x="1718.0" y="722.5" font-size="24" font-weight="bold" fill="#fff" stroke="none" stroke-width="0.5" text-anchor="middle" textLength="175.0" lengthAdjust="spacingAndGlyphs">Servicepunkte</text>
<text x="1718.0" y="753.2" font-size="24" font-weight="bold" fill="#fff" stroke="none" stroke-width="0.5" text-anchor="middle" textLength="141.0" lengthAdjust="spacingAndGlyphs">Automaten</text>
<line x1="402.4" y1="826.0" x2="402.4" y2="973.5" stroke="#111" stroke-width="2.4" stroke-linecap="round" stroke-dasharray="0 5.88"/>
<line x1="835.4" y1="826.0" x2="835.4" y2="973.5" stroke="#111" stroke-width="2.4" stroke-linecap="round" stroke-dasharray="0 5.88"/>
<line x1="1282.0" y1="826.0" x2="1282.0" y2="973.5" stroke="#111" stroke-width="2.4" stroke-linecap="round" stroke-dasharray="0 5.88"/>
<line x1="1720.8" y1="826.0" x2="1720.8" y2="973.5" stroke="#111" stroke-width="2.4" stroke-linecap="round" stroke-dasharray="0 5.88"/>
<line x1="749.5" y1="1297.7" x2="749.5" y2="1336.0" stroke="#111" stroke-width="2.4" stroke-linecap="round" stroke-dasharray="0 5.88"/>
<rect x="150.0" y="986.0" width="602.0" height="51.0" fill="#64a0a2"/>
<text x="740.5" y="1022.7" font-size="32" fill="#111" stroke="#64a0a2" stroke-width="0.6" text-anchor="end">1840</text>
<rect x="752.0" y="986.0" width="418.0" height="51.0" fill="#b9d2d4"/>
<text x="1158.5" y="1022.7" font-size="32" fill="#111" stroke="#b9d2d4" stroke-width="0.6" text-anchor="end">1275</text>
<rect x="1170.0" y="986.0" width="260.0" height="51.0" fill="#8bb3b7"/>
<text x="1418.5" y="1022.7" font-size="32" fill="#111" stroke="#8bb3b7" stroke-width="0.6" text-anchor="end">795</text>
<rect x="1430.0" y="986.0" width="417.5" height="51.0" fill="#8fa0cc"/>
<text x="1836.0" y="1022.7" font-size="32" fill="#111" stroke="#8fa0cc" stroke-width="0.6" text-anchor="end">1275</text>
<text x="28.5" y="1024.3" font-size="32" font-weight="normal" fill="#111" stroke="#fff" stroke-width="0.6" textLength="73.0" lengthAdjust="spacingAndGlyphs">2024</text>
<text x="1882.5" y="1022.7" font-size="32" font-weight="normal" fill="#111" stroke="#fff" stroke-width="0.6">5185</text>
<rect x="150" y="1047.2" width="1280.0" height="3.8" fill="#505050"/>
<rect x="150" y="1039.0" width="3.9" height="20" fill="#505050"/>
<rect x="1426.1" y="1039.0" width="3.9" height="20" fill="#505050"/>
<rect x="150.0" y="1111.0" width="604.0" height="50.5" fill="#64a0a2"/>
<text x="742.5" y="1147.7" font-size="32" fill="#111" stroke="#64a0a2" stroke-width="0.6" text-anchor="end">1847</text>
<rect x="754.0" y="1111.0" width="413.0" height="50.5" fill="#b9d2d4"/>
<text x="1155.5" y="1147.7" font-size="32" fill="#111" stroke="#b9d2d4" stroke-width="0.6" text-anchor="end">1251</text>
<rect x="1167.0" y="1111.0" width="263.0" height="50.5" fill="#8bb3b7"/>
<text x="1418.5" y="1147.7" font-size="32" fill="#111" stroke="#8bb3b7" stroke-width="0.6" text-anchor="end">805</text>
<rect x="1430.0" y="1111.0" width="299.0" height="50.5" fill="#8fa0cc"/>
<text x="1717.5" y="1147.7" font-size="32" fill="#111" stroke="#8fa0cc" stroke-width="0.6" text-anchor="end">912</text>
<text x="26.0" y="1147.7" font-size="32" font-weight="bold" fill="#111" stroke="#fff" stroke-width="0" textLength="71.5" lengthAdjust="spacingAndGlyphs">2021</text>
<text x="1762.5" y="1147.7" font-size="32" font-weight="bold" fill="#111" stroke="#fff" stroke-width="0">4815</text>
<rect x="150" y="1170.0" width="1280.0" height="3.8" fill="#505050"/>
<rect x="150" y="1162.0" width="3.9" height="20" fill="#505050"/>
<rect x="1426.1" y="1162.0" width="3.9" height="20" fill="#505050"/>
<rect x="150.0" y="1221.3" width="563.0" height="50.7" fill="#64a0a2"/>
<text x="701.5" y="1258.0" font-size="32" fill="#111" stroke="#64a0a2" stroke-width="0.6" text-anchor="end">1720</text>
<rect x="713.0" y="1221.3" width="281.0" height="50.7" fill="#b9d2d4"/>
<text x="982.5" y="1258.0" font-size="32" fill="#111" stroke="#b9d2d4" stroke-width="0.6" text-anchor="end">850</text>
<rect x="994.0" y="1221.3" width="432.0" height="50.7" fill="#8bb3b7"/>
<text x="1414.5" y="1258.0" font-size="32" fill="#111" stroke="#8bb3b7" stroke-width="0.6" text-anchor="end">1320</text>
<rect x="1426.0" y="1221.3" width="101.5" height="50.7" fill="#9aa9d4"/>
<text x="1516.0" y="1258.0" font-size="32" fill="#111" stroke="#9aa9d4" stroke-width="0.6" text-anchor="end">310</text>
<text x="28.5" y="1256.6" font-size="32" font-weight="normal" fill="#111" stroke="#fff" stroke-width="0.6" textLength="73.0" lengthAdjust="spacingAndGlyphs">2016</text>
<text x="1562.5" y="1258.0" font-size="32" font-weight="normal" fill="#111" stroke="#fff" stroke-width="0.6">4200</text>
<rect x="150" y="1280.0" width="1276.0" height="3.8" fill="#505050"/>
<rect x="150" y="1272.0" width="3.9" height="20" fill="#505050"/>
<rect x="1422.1" y="1272.0" width="3.9" height="20" fill="#505050"/>
<text x="584" y="1369.2" font-size="30.5" fill="#111" stroke="#fff" stroke-width="0.6" textLength="333" lengthAdjust="spacingAndGlyphs">Regulatorische Formate</text>
</svg></body></html>
